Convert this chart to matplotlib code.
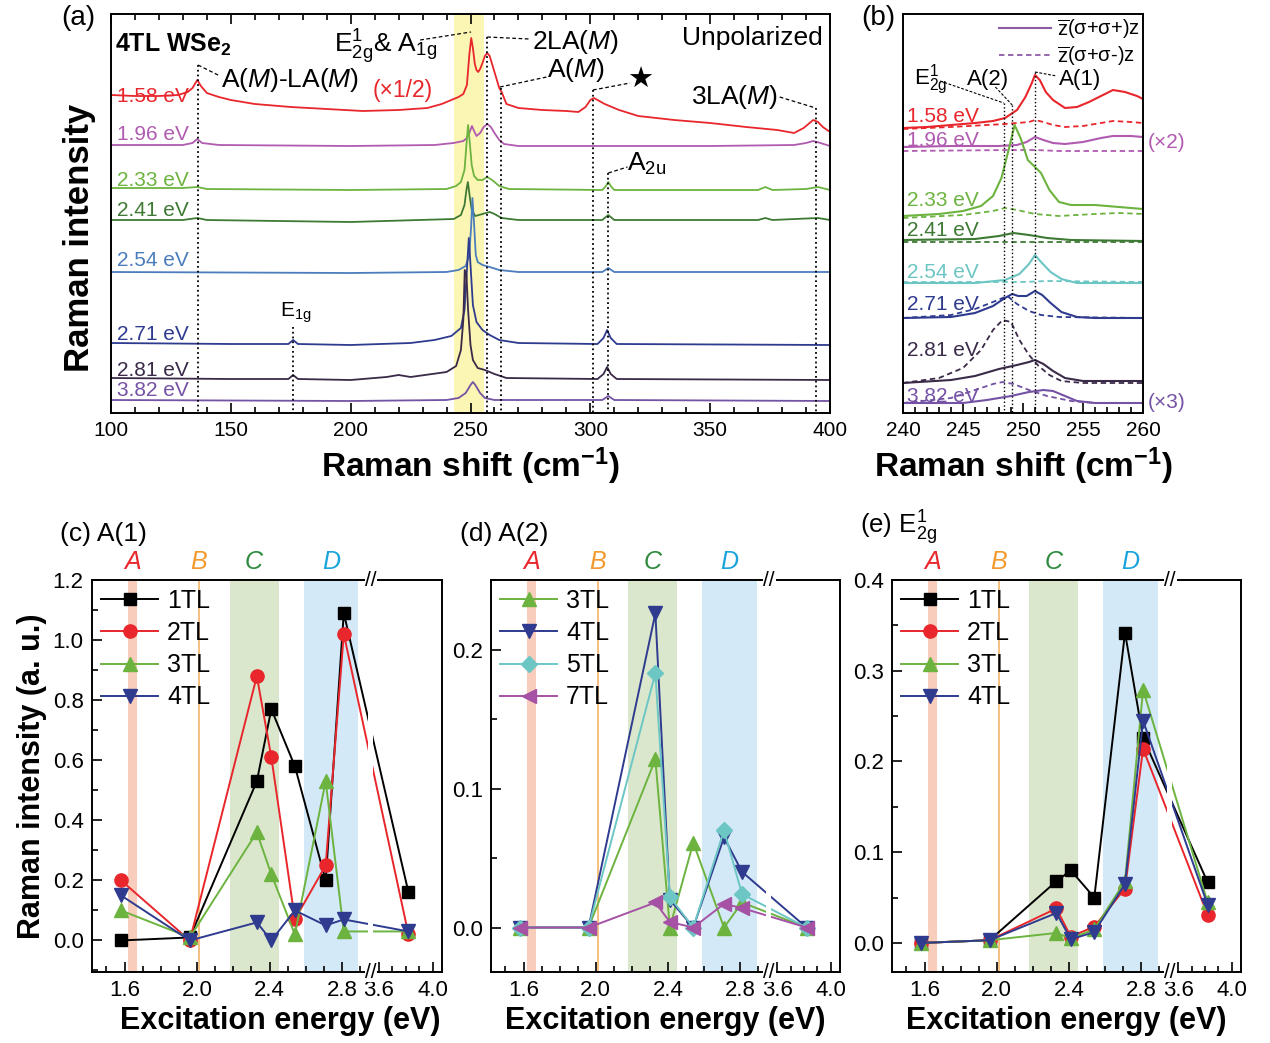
"""Raman spectra of 4TL WSe2 (a, b) and resonance profiles of A(1), A(2), E2g modes (c-e)."""

import numpy as np
import matplotlib
matplotlib.use("Agg")
import matplotlib.pyplot as plt
from matplotlib.ticker import MultipleLocator, FixedLocator
from matplotlib.lines import Line2D

plt.rcParams['font.family'] = ['Liberation Sans', 'DejaVu Sans']
plt.rcParams['mathtext.fontset'] = 'custom'
plt.rcParams['mathtext.rm'] = 'Liberation Sans'
plt.rcParams['mathtext.it'] = 'Liberation Sans:italic'
plt.rcParams['mathtext.bf'] = 'Liberation Sans:bold'
plt.rcParams['axes.linewidth'] = 1.4

# ---------------- (a) unpolarized spectra, stacked, intensity in a.u.
a158_x = [100, 110, 120, 128, 132, 134, 136, 137.5, 140, 145, 150, 160, 175, 190, 205, 220, 232, 238, 242, 245,
          247, 248.5, 249.5, 250.3, 251, 251.8, 252.5, 253.2, 254, 255, 256, 257, 258, 259, 260, 261, 262, 263, 265, 270,
          280, 290, 295, 298, 300, 301.5, 303, 306, 312, 320, 335, 350, 365, 378, 385, 389, 391, 393, 395, 397, 400]
a158_y = [318, 317, 317, 318, 321, 325, 333, 327, 320, 316, 313, 309, 306, 304, 302, 303, 305, 309, 313, 316,
          319, 328, 358, 375, 365, 349, 343, 341, 344, 350, 357, 360, 357, 349, 341, 333, 325, 321, 309, 305,
          303, 302, 301, 306, 313, 315, 313, 309, 303, 297, 293, 290, 286, 283, 280, 285, 289, 293, 291, 286, 281]
a196_x = [100, 130, 134, 136, 138, 145, 200, 235, 243, 247, 248.5, 249.5, 250.6, 251.5, 252.5, 254, 255.5, 257,
          258.5, 260, 262, 264, 270, 350, 385, 390, 393, 396, 400]
a196_y = [268, 268, 270, 274, 270, 268, 267, 268, 270, 272, 275, 280, 287, 282, 277, 280, 286, 289,
          286, 280, 273, 269, 267, 267, 268, 270, 272, 270, 267]
a233_x = [100, 130, 136, 140, 200, 240, 244, 246, 247.5, 248.3, 249, 249.6, 250.5, 251.5, 253, 255, 257, 259, 262,
          266, 305, 306.5, 307.5, 308.5, 310, 370, 373, 376, 390, 395, 400]
a233_y = [225, 225, 226, 224, 223, 224, 227, 231, 243, 268, 288, 273, 248, 237, 233, 233, 236, 233, 227,
          224, 223, 227, 231, 227, 223, 223, 226, 223, 224, 226, 223]
a241_x = [100, 130, 136, 140, 200, 243, 246, 247.5, 248.3, 248.9, 249.6, 250.5, 252, 255, 258, 260, 263, 270,
          305, 307.5, 310, 370, 373, 376, 395, 400]
a241_y = [193, 193, 195, 193, 191, 194, 198, 208, 223, 231, 218, 203, 197, 199, 201, 199, 195, 193,
          193, 198, 193, 193, 195, 193, 195, 193]
a254_x = [100, 200, 240, 245, 248, 249.5, 250.3, 250.8, 251.4, 252.2, 253, 255, 258, 262, 270, 305, 307.5, 310, 400]
a254_y = [141, 140, 141, 143, 147, 158, 188, 215, 193, 158, 151, 148, 146, 143, 141, 141, 145, 141, 141]
a271_x = [100, 150, 174, 176, 178, 200, 225, 235, 242, 246, 247.5, 248.5, 249.3, 250, 251, 252.5, 255, 258, 262,
          270, 303, 305.5, 307, 308.5, 311, 400]
a271_y = [70, 69, 69, 73, 69, 68, 70, 73, 77, 85, 103, 143, 175, 148, 108, 91, 83, 78, 73,
          70, 69, 75, 83, 75, 69, 68]
a281_x = [100, 150, 174, 176, 178, 200, 215, 220, 225, 240, 244, 246, 247, 247.6, 248.3, 249, 250, 251, 253,
          256, 260, 265, 303, 305.5, 307, 308.5, 311, 400]
a281_y = [35, 34, 34, 38, 34, 33, 36, 38, 36, 41, 47, 63, 93, 143, 138, 103, 68, 53, 45,
          43, 39, 35, 34, 39, 46, 39, 34, 33]
a382_x = [100, 200, 240, 245, 248, 250, 251, 252, 254, 256, 260, 305, 307.5, 310, 400]
a382_y = [13, 12, 13, 15, 20, 28, 31, 28, 20, 15, 13, 13, 17, 13, 12]

a_labels = ['1.58 eV', '1.96 eV', '2.33 eV', '2.41 eV', '2.54 eV', '2.71 eV', '2.81 eV', '3.82 eV']
a_label_y = [317, 278, 232, 203, 153, 78, 43, 22]

# ---------------- (b) circular polarized spectra (solid: co-, dashed: cross-polarized)
b158_x = [240, 242, 244, 246, 247.5, 248.5, 249.5, 250.2, 250.7, 251, 251.4, 251.9, 252.5, 253.5, 254.5, 255.5,
          256.5, 257.5, 258.5, 259.5, 260]
b158_y = [285, 286, 288, 290, 292, 295, 303, 316, 329, 338, 333, 321, 313, 305, 306, 311, 317, 323, 321, 317, 314]
b158_xd = [240, 244, 247, 248.5, 249.5, 250.5, 251, 251.7, 252.5, 253.5, 255, 256.5, 257.5, 259, 260]
b158_yd = [284, 286, 288, 289, 290, 291, 293, 291, 288, 286, 287, 290, 292, 291, 290]
b196_x = [240, 244, 248, 249.5, 250.3, 251, 251.7, 252.5, 253.5, 255, 256.5, 257.5, 259, 260]
b196_y = [266, 267, 267, 268, 271, 276, 273, 270, 269, 271, 275, 277, 277, 276]
b196_xd = [240, 249, 251, 253, 260]
b196_yd = [262, 263, 263, 262, 262]
b233_x = [240, 243, 245, 246.5, 247.5, 248.2, 248.8, 249.3, 249.8, 250.4, 251, 251.5, 252.2, 253, 254, 256, 258, 260]
b233_y = [197, 199, 202, 207, 217, 235, 263, 288, 275, 253, 246, 240, 223, 211, 208, 208, 206, 204]
b233_xd = [240, 245, 247.5, 248.5, 249.5, 251, 253, 256, 258, 260]
b233_yd = [195, 198, 202, 205, 203, 199, 197, 199, 200, 199]
b241_x = [240, 246, 248, 249.2, 250.5, 252, 254, 260]
b241_y = [173, 174, 177, 180, 178, 175, 173, 172]
b241_xd = [240, 260]
b241_yd = [171, 171]
b254_x = [240, 246, 248.5, 249.7, 250.5, 251, 251.5, 252.3, 253.2, 254.5, 260]
b254_y = [130, 130, 133, 139, 149, 158, 151, 141, 134, 130, 130]
b254_xd = [240, 250, 252, 260]
b254_yd = [131, 131, 132, 131]
b271_x = [240, 244, 246, 247.5, 248.5, 249.1, 249.6, 250.3, 251, 251.6, 252.3, 253.2, 254.5, 256, 260]
b271_y = [95, 96, 100, 107, 115, 119, 117, 117, 122, 118, 110, 101, 96, 95, 95]
b271_xd = [240, 244, 246, 247.5, 248.7, 249.5, 250.5, 251.5, 253, 260]
b271_yd = [95, 98, 104, 111, 117, 109, 102, 98, 96, 95]
b281_x = [240, 244, 246, 248, 249.5, 250.5, 251, 251.7, 252.5, 253.5, 255, 260]
b281_y = [30, 33, 37, 44, 48, 51, 53, 49, 42, 35, 32, 32]
b281_xd = [240, 243, 245, 246.5, 247.5, 248.3, 249, 249.7, 250.5, 251.3, 252.2, 253.2, 255, 260]
b281_yd = [30, 35, 45, 63, 83, 93, 91, 73, 58, 47, 38, 32, 30, 30]
b382_x = [240, 245, 247, 249, 250.5, 251.7, 252.5, 253.5, 254.5, 256, 260]
b382_y = [10, 10, 13, 17, 21, 23, 22, 17, 12, 10, 10]
b382_xd = [240, 244, 246, 247.5, 248.3, 249.2, 250.5, 252, 254, 256, 260]
b382_yd = [10, 15, 23, 29, 31, 29, 23, 17, 12, 10, 10]

b_label_y = [297, 273, 213, 183, 140, 108, 62, 17]

# ---------------- (c)-(e) resonance profiles
energies = [1.58, 1.96, 2.33, 2.41, 2.54, 2.71, 2.81, 3.82]
c_1tl = [0.00, 0.01, 0.53, 0.77, 0.58, 0.20, 1.09, 0.16]
c_2tl = [0.20, 0.00, 0.88, 0.61, 0.07, 0.25, 1.02, 0.02]
c_3tl = [0.10, 0.01, 0.36, 0.22, 0.02, 0.53, 0.03, 0.03]
c_4tl = [0.15, 0.00, 0.06, 0.00, 0.10, 0.05, 0.07, 0.03]

d_3tl = [0.0, 0.0, 0.121, 0.0, 0.061, 0.0, 0.018, 0.0]
d_4tl = [0.0, 0.0, 0.226, 0.020, 0.0, 0.065, 0.040, 0.0]
d_5tl = [0.0, 0.0, 0.183, 0.022, 0.0, 0.070, 0.024, 0.0]
d_7tl = [0.0, 0.0, 0.018, 0.004, 0.0, 0.017, 0.014, 0.0]

e_1tl = [0.0, 0.003, 0.068, 0.080, 0.050, 0.342, 0.226, 0.067]
e_2tl = [0.0, 0.003, 0.038, 0.007, 0.018, 0.060, 0.214, 0.031]
e_3tl = [0.0, 0.003, 0.011, 0.005, 0.015, 0.068, 0.279, 0.045]
e_4tl = [0.0, 0.003, 0.033, 0.004, 0.012, 0.065, 0.245, 0.042]

# colours
C158, C196, C233, C241 = '#e8262b', '#b05bb0', '#6cb33f', '#3e7a34'
C254, C254B, C271, C281, C382 = '#4b7dbd', '#6cc6c4', '#2e3b8f', '#3a2a48', '#7452a4'
K, RED, GRN, NAVY, CYAN, MAG = 'black', '#e8262b', '#6cb33f', '#2e3b8f', '#6cc6c4', '#a552a5'

# broken energy axis: 2.96..3.54 eV is squeezed out
EB1, EB2, KR = 2.96, 3.54, 0.74


def fwd(e):
    e = np.asarray(e, dtype=float)
    gap = EB1 + (e - EB1) * 1e-3
    return np.where(e <= EB1, e, np.where(e >= EB2, EB1 + (e - EB2) * KR, gap))


def inv(u):
    u = np.asarray(u, dtype=float)
    return np.where(u <= EB1, u, EB2 + (u - EB1) / KR)


def fpos(px, py):
    return px / 1270, 1 - py / 1043


fig = plt.figure(figsize=(12.7, 10.43), dpi=100)

# ======================= (a)
ax = fig.add_axes([111 / 1270, 1 - 413 / 1043, 719 / 1270, 399 / 1043])
ax.axvspan(243, 255.5, color='#fcf6b5', lw=0, zorder=0)
a_series = [(a158_x, a158_y, C158), (a196_x, a196_y, C196), (a233_x, a233_y, C233), (a241_x, a241_y, C241),
            (a254_x, a254_y, C254), (a271_x, a271_y, C271), (a281_x, a281_y, C281), (a382_x, a382_y, C382)]
for (x, y, c), lab, ly in zip(a_series, a_labels, a_label_y):
    ax.plot(x, y, color=c, lw=1.3)
    ax.text(102.5, ly, lab, color=c, fontsize=15, va='center', ha='left')

for xv, top in [(136.3, 348), (176, 86), (257, 376), (262.7, 325), (301.1, 323), (307.5, 240), (394, 305)]:
    ax.plot([xv, xv], [top, 0], ':', color='k', lw=1.3, zorder=3)
for (x0, y0), (x1, y1) in [((136.3, 348), (145.5, 337)), ((229, 373), (250.2, 381)), ((257, 376), (274.5, 374)),
                           ((262.3, 326), (281.8, 336)), ((301.1, 323), (316.6, 330)),
                           ((307.5, 240), (315.5, 246)), ((379, 316), (394, 305))]:
    ax.plot([x0, x1], [y0, y1], '--', color='k', lw=0.9, dashes=(3, 2))

ax.text(101.7, 368, r'4TL WSe$_\mathbf{2}$', fontsize=18, fontweight='bold', va='center')
ax.text(193, 366, r'E$^{1}_{\mathrm{2g}}$& A$_{\mathrm{1g}}$', fontsize=19, va='center')
ax.text(146, 333, r'A($\it{M}$)-LA($\it{M}$)', fontsize=19, va='center')
ax.text(209, 322, '(×1/2)', fontsize=16.5, color=C158, va='center')
ax.text(275.6, 371, r'2LA($\it{M}$)', fontsize=19, va='center')
ax.text(282, 343, r'A($\it{M}$)', fontsize=19, va='center')
ax.text(320.7, 333, '★', fontsize=21, va='center', ha='center', family='DejaVu Sans')
ax.text(315.5, 249, r'A$_{\mathrm{2u}}$', fontsize=19, va='center')
ax.text(342, 316, r'3LA($\it{M}$)', fontsize=19, va='center')
ax.text(397, 375, 'Unpolarized', fontsize=19, va='center', ha='right')
ax.text(170.5, 100, r'E$_{\mathrm{1g}}$', fontsize=15, va='center')

ax.set_xlim(100, 400)
ax.set_ylim(0, 399)
ax.set_yticks([])
ax.xaxis.set_major_locator(MultipleLocator(50))
ax.xaxis.set_minor_locator(MultipleLocator(10))
ax.tick_params(axis='x', which='both', direction='in', top=True, labelsize=15, width=1.2)
ax.tick_params(axis='x', which='major', length=7, pad=6)
ax.tick_params(axis='x', which='minor', length=4)
ax.set_xlabel(r'Raman shift (cm$^{\mathbf{-1}}$)', fontsize=24, fontweight='bold')
ax.xaxis.set_label_coords(0.5, -0.082)
ax.set_ylabel('Raman intensity', fontsize=25, fontweight='bold')
ax.yaxis.set_label_coords(-0.021, 0.44)
fig.text(*fpos(61, 18), '(a)', fontsize=20, va='center')

# ======================= (b)
ax = fig.add_axes([903 / 1270, 1 - 413 / 1043, 240 / 1270, 399 / 1043])
b_series = [(b158_x, b158_y, b158_xd, b158_yd, C158), (b196_x, b196_y, b196_xd, b196_yd, C196),
            (b233_x, b233_y, b233_xd, b233_yd, C233), (b241_x, b241_y, b241_xd, b241_yd, C241),
            (b254_x, b254_y, b254_xd, b254_yd, C254B), (b271_x, b271_y, b271_xd, b271_yd, C271),
            (b281_x, b281_y, b281_xd, b281_yd, C281), (b382_x, b382_y, b382_xd, b382_yd, C382)]
for (x, y, xd, yd, c), lab, ly in zip(b_series, a_labels, b_label_y):
    ax.plot(xd, yd, '--', color=c, lw=1.3, dashes=(3, 2))
    ax.plot(x, y, color=c, lw=1.5)
    ax.text(240.3, ly, lab, color=c, fontsize=15, va='center', ha='left')
ax.text(260.4, 270, '(×2)', color=C196, fontsize=15, va='center', clip_on=False)
ax.text(260.4, 10, '(×3)', color=C382, fontsize=15, va='center', clip_on=False)

for xv, top in [(248.4, 310), (249.1, 308), (251.0, 341)]:
    ax.plot([xv, xv], [top, 0], ':', color='k', lw=1.0, zorder=3)
for (x0, y0), (x1, y1) in [((243.1, 332), (248.4, 310)), ((247.7, 326), (249.1, 308)), ((251.0, 341), (252.8, 337))]:
    ax.plot([x0, x1], [y0, y1], '--', color='k', lw=0.8, dashes=(2.5, 1.5))
ax.text(240.9, 333, r'E$^{1}_{\mathrm{2g}}$', fontsize=16, va='center')
ax.text(245.3, 333, 'A(2)', fontsize=16, va='center')
ax.text(253.0, 333, 'A(1)', fontsize=16, va='center')

leg_handles = [Line2D([], [], color='#8e5ba6', lw=1.5),
               Line2D([], [], color='#8e5ba6', lw=1.3, ls='--', dashes=(3, 2))]
ax.legend(leg_handles, [r'$\overline{\mathrm{z}}$(σ+σ+)z', r'$\overline{\mathrm{z}}$(σ+σ-)z'],
          loc='upper right', frameon=False, fontsize=14.5, handlelength=2.6, borderaxespad=0.05,
          labelspacing=0.15, handletextpad=0.3, borderpad=0.1)

ax.set_xlim(240, 260)
ax.set_ylim(0, 399)
ax.set_yticks([])
ax.xaxis.set_major_locator(MultipleLocator(5))
ax.xaxis.set_minor_locator(MultipleLocator(1))
ax.tick_params(axis='x', which='both', direction='in', labelsize=15, width=1.2)
ax.tick_params(axis='x', which='major', length=7, pad=6)
ax.tick_params(axis='x', which='minor', length=4)
ax.set_xlabel(r'Raman shift (cm$^{\mathbf{-1}}$)', fontsize=24, fontweight='bold')
ax.xaxis.set_label_coords(0.5, -0.082)
fig.text(*fpos(861, 18), '(b)', fontsize=20, va='center')

# ======================= (c)-(e)
bands = [('A', '#e8262b'), ('B', '#f39a2e'), ('C', '#2e8b3e'), ('D', '#1ba3dc')]


def energy_panel(rect, series, ylim, ymaj, ymin, xlabel_x):
    ax = fig.add_axes(rect)
    ax.set_xscale('function', functions=(fwd, inv))
    ax.axvspan(1.62, 1.67, color='#f9cdbb', lw=0, zorder=0)
    ax.axvline(2.01, color='#f5b46b', lw=1.2, zorder=0)
    ax.axvspan(2.18, 2.45, color='#dbe7cd', lw=0, zorder=0)
    ax.axvspan(2.59, 2.89, color='#d4e9f7', lw=0, zorder=0)
    trans = ax.get_xaxis_transform()
    for (letter, col), xc in zip(bands, [1.645, 2.01, 2.315, 2.74]):
        ax.text(xc, 1.045, letter, transform=trans, color=col, fontsize=18, style='italic',
                ha='center', va='center', clip_on=False)
    for ys, lab, col, mk, ms in series:
        ax.plot(energies, ys, color=col, lw=1.4, marker=mk, ms=ms, label=lab, zorder=2)
    ax.axvspan(2.945, 3.555, color='white', lw=0, zorder=2.3)
    for yb in (0, 1):
        ax.text(3.2, yb, '//', transform=trans, fontsize=15, ha='center', va='center',
                bbox=dict(fc='white', ec='none', pad=0.5), clip_on=False, zorder=5)
    ax.set_xlim(1.42, 4.07)
    ax.set_ylim(*ylim)
    ax.set_xticks([1.6, 2.0, 2.4, 2.8, 3.6, 4.0], ['1.6', '2.0', '2.4', '2.8', '3.6', '4.0'])
    ax.xaxis.set_minor_locator(FixedLocator([1.5, 1.7, 1.8, 1.9, 2.1, 2.2, 2.3, 2.5, 2.6, 2.7, 2.9,
                                             3.7, 3.8, 3.9]))
    ax.yaxis.set_major_locator(MultipleLocator(ymaj))
    ax.yaxis.set_minor_locator(MultipleLocator(ymin))
    ax.tick_params(which='both', direction='in', labelsize=16, width=1.2)
    ax.tick_params(which='major', length=7, pad=6)
    ax.tick_params(which='minor', length=4)
    ax.set_xlabel('Excitation energy (eV)', fontsize=22, fontweight='bold')
    ax.xaxis.set_label_coords(xlabel_x, -0.088)
    ax.legend(loc='upper left', frameon=False, fontsize=18, handlelength=2.3, numpoints=1,
              borderaxespad=0.1, labelspacing=0.33, handletextpad=0.35, borderpad=0.25)
    return ax


ax = energy_panel([92 / 1270, 1 - 972 / 1043, 350 / 1270, 392 / 1043],
                  [(c_1tl, '1TL', K, 's', 8.5), (c_2tl, '2TL', RED, 'o', 9.5),
                   (c_3tl, '3TL', GRN, '^', 10), (c_4tl, '4TL', NAVY, 'v', 10)],
                  (-0.105, 1.2), 0.2, 0.1, 0.537)
ax.set_ylabel('Raman intensity (a. u.)', fontsize=22, fontweight='bold')
ax.yaxis.set_label_coords(-0.128, 0.5)
fig.text(*fpos(60, 534), '(c) A(1)', fontsize=19, va='center')

ax = energy_panel([491 / 1270, 1 - 972 / 1043, 349 / 1270, 392 / 1043],
                  [(d_3tl, '3TL', GRN, '^', 10), (d_4tl, '4TL', NAVY, 'v', 10),
                   (d_5tl, '5TL', CYAN, 'D', 8), (d_7tl, '7TL', MAG, '<', 10)],
                  (-0.032, 0.25), 0.1, 0.05, 0.5)
fig.text(*fpos(460, 534), '(d) A(2)', fontsize=19, va='center')

ax = energy_panel([892 / 1270, 1 - 972 / 1043, 349 / 1270, 392 / 1043],
                  [(e_1tl, '1TL', K, 's', 8.5), (e_2tl, '2TL', RED, 'o', 9.5),
                   (e_3tl, '3TL', GRN, '^', 10), (e_4tl, '4TL', NAVY, 'v', 10)],
                  (-0.032, 0.4), 0.1, 0.05, 0.5)
fig.text(*fpos(860, 528), r'(e) E$^{1}_{\mathrm{2g}}$', fontsize=18.5, va='center')

fig.savefig('out.png', dpi=100)
